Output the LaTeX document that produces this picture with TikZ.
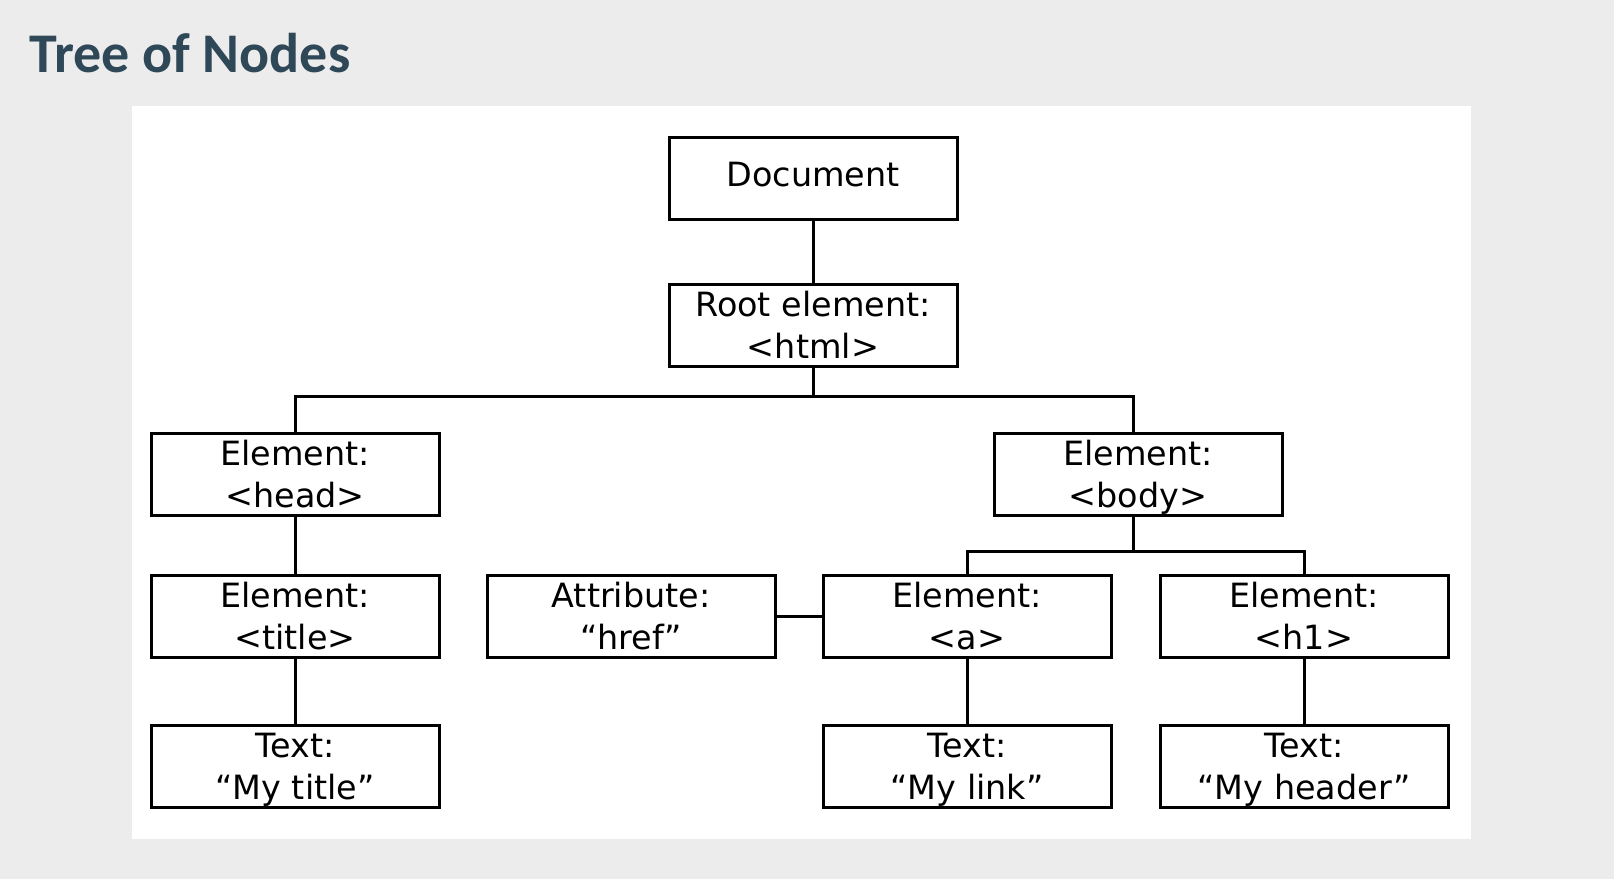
\documentclass[tikz,border=0pt]{standalone}
\usepackage{fontspec}
\setmainfont{DejaVu Sans}
\newfontfamily\headingfont{Carlito}
\definecolor{pagebg}{HTML}{ECECEC}
\definecolor{headingcol}{HTML}{2F4858}
% fixed line struts so every label sits at the same height
\newcommand\linestrut{\rule[-8pt]{0pt}{40pt}}
\newcommand\singlestrut{\rule[-10pt]{0pt}{36pt}}
\begin{document}
\begin{tikzpicture}[x=1pt,y=-1pt,
  treebox/.style={draw=black, line width=3pt, fill=white, minimum width=288pt,
    minimum height=82pt, align=center, inner sep=0pt,
    font=\fontsize{33.4}{42}\selectfont},
  link/.style={draw=black, line width=3pt}]
  % page and white panel
  \fill[pagebg] (0,0) rectangle (1614,879);
  \useasboundingbox (0,0) rectangle (1614,879);
  \fill[white] (132,106) rectangle (1471,839);
  \node[anchor=base west, text=headingcol, inner sep=0pt,
    font=\headingfont\bfseries\fontsize{56}{64}\selectfont] (heading) at (29,72) {Tree of Nodes};

  % nodes
  \node[treebox] (doc)   at (813,178) {\singlestrut Document};
  \node[treebox] (root)  at (813,325) {\linestrut Root element:\\\linestrut <html>};
  \node[treebox] (head)  at (295,474) {\linestrut Element:\\\linestrut <head>};
  \node[treebox] (body)  at (1138,474) {\linestrut Element:\\\linestrut <body>};
  \node[treebox] (title) at (295,616) {\linestrut Element:\\\linestrut <title>};
  \node[treebox] (attr)  at (631,616) {\linestrut Attribute:\\\linestrut “href”};
  \node[treebox] (a)     at (967,616) {\linestrut Element:\\\linestrut <a>};
  \node[treebox] (h1)    at (1304,616) {\linestrut Element:\\\linestrut <h1>};
  \node[treebox] (t1)    at (295,766) {\linestrut Text:\\\linestrut “My title”};
  \node[treebox] (t2)    at (967,766) {\linestrut Text:\\\linestrut “My link”};
  \node[treebox] (t3)    at (1304,766) {\linestrut Text:\\\linestrut “My header”};

  % branching points
  \coordinate (bus1) at (813,396);
  \coordinate (bus2) at (1133,551);

  % connectors
  \draw[link] (doc.south) -- (root.north);
  \draw[link] (root.south) -- (bus1) -| (head.north);
  \draw[link] (bus1) -| ([xshift=-5pt]body.north);
  \draw[link] (head.south) -- (title.north);
  \draw[link] (title.south) -- (t1.north);
  \draw[link] ([xshift=-5pt]body.south) -- (bus2) -| (a.north);
  \draw[link] (bus2) -| (h1.north);
  \draw[link] (attr.east) -- (a.west);
  \draw[link] (a.south) -- (t2.north);
  \draw[link] (h1.south) -- (t3.north);
\end{tikzpicture}
\end{document}
